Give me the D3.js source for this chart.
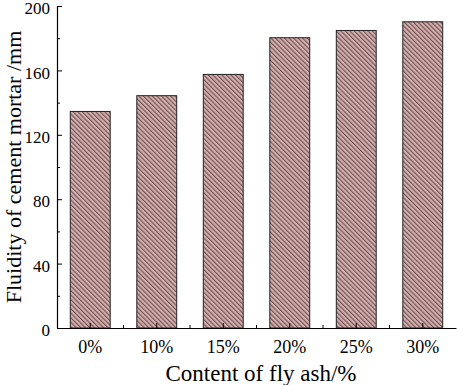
<!DOCTYPE html>
<html>
<head>
<meta charset="utf-8">
<script src="https://cdn.jsdelivr.net/npm/d3@7"></script>
<style>
  body { margin: 0; background: #fff; }
  svg text { font-family: "Liberation Serif", "Times New Roman", serif; fill: #000; }
</style>
</head>
<body>
<svg id="chart" width="457" height="385"></svg>
<script>
// data
const categories = ['0%', '10%', '15%', '20%', '25%', '30%']
const fluidity = [134.5, 144.3, 157.5, 180.3, 184.8, 190.2]
const yTicks = [0, 40, 80, 120, 160, 200]

const svg = d3.select('#chart')
const margin = { top: 6, bottom: 57, left: 57, right: 1 }
const width = 457, height = 385
const innerW = width - margin.left - margin.right
const innerH = height - margin.top - margin.bottom

const g = svg.append('g').attr('transform', `translate(${margin.left},${margin.top})`)

// hatch fill
const defs = svg.append('defs')
const pat = defs.append('pattern')
  .attr('id', 'hatch')
  .attr('patternUnits', 'userSpaceOnUse')
  .attr('width', 3.2).attr('height', 10)
  .attr('patternTransform', 'rotate(-45)')
pat.append('rect').attr('width', 3.2).attr('height', 10).attr('fill', '#d3b0b0')
pat.append('line').attr('x1', 0.6).attr('x2', 0.6).attr('y1', 0).attr('y2', 10)
  .attr('stroke', '#5a3838').attr('stroke-width', 0.9)

// scales
const x = d3.scaleBand().domain(categories).range([0, innerW]).paddingInner(0.4).paddingOuter(0.2)
const y = d3.scaleLinear().domain([0, 200]).range([innerH, 0])

// bars
g.selectAll('rect.bar')
  .data(categories)
  .join('rect')
  .attr('class', 'bar')
  .attr('x', d => x(d))
  .attr('y', (d, i) => y(fluidity[i]))
  .attr('width', x.bandwidth())
  .attr('height', (d, i) => innerH - y(fluidity[i]))
  .attr('fill', 'url(#hatch)')
  .attr('stroke', '#222')
  .attr('stroke-width', 1)

// y axis (ticks pointing inward, minor ticks every 20)
const yAxis = g.append('g')
  .call(d3.axisLeft(y).tickValues(yTicks).tickSizeInner(-5).tickSizeOuter(0).tickPadding(7))
yAxis.selectAll('text').style('font-size', '17px').attr('dy', '0.45em')
g.append('g')
  .call(d3.axisLeft(y).tickValues(d3.range(20, 200, 40)).tickSize(-3).tickFormat(''))
  .select('.domain').remove()

// x axis (major ticks at bar centres, minor between)
const step = x.step()
const xAxis = g.append('g')
  .attr('transform', `translate(0,${innerH})`)
  .call(d3.axisBottom(x).tickSizeInner(-5).tickSizeOuter(0).tickPadding(12))
xAxis.selectAll('text').style('font-size', '18px')
const minorX = d3.range(1, categories.length).map(i => x(categories[i]) - (step - x.bandwidth()) / 2)
g.append('g')
  .selectAll('line')
  .data(minorX)
  .join('line')
  .attr('x1', d => d).attr('x2', d => d)
  .attr('y1', innerH).attr('y2', innerH - 3)
  .attr('stroke', '#000')
g.selectAll('.domain').attr('stroke', '#000').attr('stroke-width', 1.2)
g.selectAll('.tick line').attr('stroke', '#000')

// titles
svg.append('text')
  .attr('x', 261)
  .attr('y', 381)
  .attr('text-anchor', 'middle')
  .style('font-size', '23px')
  .text('Content of fly ash/%')

svg.append('text')
  .attr('transform', `translate(21,${margin.top + innerH / 2}) rotate(-90)`)
  .attr('text-anchor', 'middle')
  .style('font-size', '22px')
  .text('Fluidity of cement mortar /mm')
</script>
</body>
</html>
